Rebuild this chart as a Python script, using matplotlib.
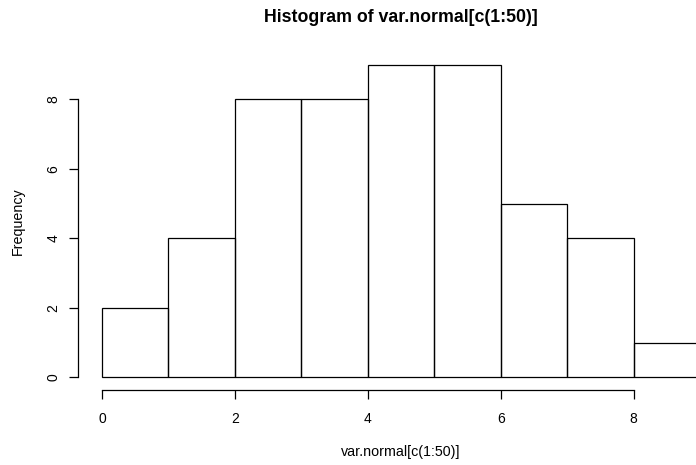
import matplotlib
matplotlib.use("Agg")
import matplotlib.pyplot as plt
import numpy as np

plt.rcParams['font.family'] = ['Liberation Sans', 'DejaVu Sans']

bin_edges = [0, 1, 2, 3, 4, 5, 6, 7, 8, 9]
counts = [2, 4, 8, 8, 9, 9, 5, 4, 1]
x_ticks = [0, 2, 4, 6, 8]
y_ticks = [0, 2, 4, 6, 8]
title = "Histogram of var.normal[c(1:50)]"
xlabel = "var.normal[c(1:50)]"
ylabel = "Frequency"

W, H = 696, 465
fig = plt.figure(figsize=(W / 100, H / 100), dpi=100)
left, right, bottom, top = 78, 724, 390, 52
ax = fig.add_axes([left / W, (H - bottom) / H, (right - left) / W, (bottom - top) / H])

lefts = np.array(bin_edges[:-1])
widths = np.diff(bin_edges)
ax.bar(lefts, counts, width=widths, align='edge', fill=False,
       edgecolor='black', linewidth=0.9)

ax.set_xlim(-0.36, 9.36)
ax.set_ylim(-0.36, 9.36)

for s in ['top', 'right']:
    ax.spines[s].set_visible(False)
ax.spines['bottom'].set_bounds(min(x_ticks), max(x_ticks))
ax.spines['left'].set_bounds(min(y_ticks), max(y_ticks))
for s in ['bottom', 'left']:
    ax.spines[s].set_linewidth(0.9)
    ax.spines[s].set_color('black')

ax.set_xticks(x_ticks)
ax.set_yticks(y_ticks)
ax.tick_params(axis='both', direction='out', length=6.5, width=0.9,
               labelsize=10, color='black')
ax.tick_params(axis='x', pad=9)
ax.tick_params(axis='y', pad=6)
for lab in ax.get_yticklabels():
    lab.set_rotation(90)
    lab.set_va('center')

ax.set_xlabel(xlabel, fontsize=10.3, va='center', ha='center')
ax.xaxis.set_label_coords(0.5, (bottom - 452) / (bottom - top))
ax.set_ylabel(ylabel, fontsize=10.3, va='center', ha='center')
ax.yaxis.set_label_coords((18 - left) / (right - left), 0.5)

fig.text((left + right) / 2 / W, 1 - 18 / H, title, fontsize=12.8,
         fontweight='bold', ha='center', va='center')

fig.savefig("out.png", dpi=100)
